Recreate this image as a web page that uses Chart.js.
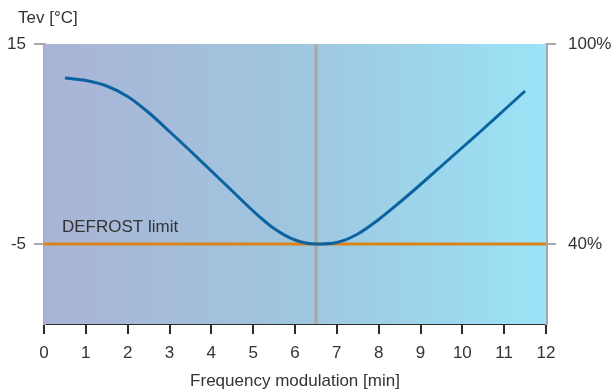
<!DOCTYPE html>
<html>
<head>
<meta charset="utf-8">
<script src="https://cdn.jsdelivr.net/npm/chart.js@4"></script>
<style>
	body { margin: 0; background: #ffffff; }
	#wrap { width: 616px; height: 392px; }
</style>
</head>
<body>
<div id="wrap"><canvas id="myChart"></canvas></div>
<script>
// Data
const minutes = [0.5, 1, 1.5, 2, 2.5, 3, 3.5, 4, 4.5, 5, 5.5, 6, 6.5, 7, 7.5, 8, 8.5, 9, 9.5, 10, 10.5, 11, 11.5];
const tev = [11.6, 11.35, 10.8, 9.75, 8.15, 6.25, 4.3, 2.3, 0.3, -1.7, -3.45, -4.6, -5.0, -4.85, -4.0, -2.55, -0.85, 0.95, 2.8, 4.65, 6.5, 8.4, 10.3];
const defrostLimit = -5;
const switchMinute = 6.5;
const leftTicks = [15, -5];
const rightTicks = [100, 40];
const xTicks = [0, 1, 2, 3, 4, 5, 6, 7, 8, 9, 10, 11, 12];

const textColor = "#333333";
const font = { family: "'Liberation Sans', Arial, sans-serif", size: 17 };

// Background gradient + texts
const decor = {
	id: "decor",
	beforeDatasetsDraw(chart) {
		const { ctx, chartArea } = chart;
		const g = ctx.createLinearGradient(chartArea.left, 0, chartArea.right, 0);
		g.addColorStop(0, "#aab3d6");
		g.addColorStop(0.5, "#9fc6df");
		g.addColorStop(1, "#9be3f6");
		ctx.save();
		ctx.fillStyle = g;
		ctx.fillRect(chartArea.left, chartArea.top, chartArea.right - chartArea.left, chartArea.bottom - chartArea.top);
		ctx.restore();
	},
	afterDraw(chart) {
		const { ctx, scales } = chart;
		ctx.save();
		ctx.fillStyle = textColor;
		ctx.font = "17px 'Liberation Sans', Arial, sans-serif";
		ctx.textBaseline = "middle";
		ctx.textAlign = "left";
		ctx.fillText("Tev [°C]", 18, 18);
		ctx.fillText("DEFROST limit", scales.x.getPixelForValue(0.43), scales.y.getPixelForValue(defrostLimit) - 17);
		ctx.restore();
	},
};

const ctx = document.getElementById("myChart").getContext("2d");
const myChart = new Chart(ctx, {
	type: "line",
	data: {
		datasets: [
			{
				data: minutes.map((m, i) => ({ x: m, y: tev[i] })),
				borderColor: "#0b63a1",
				borderWidth: 3,
				pointRadius: 0,
				cubicInterpolationMode: "monotone",
				order: 0,
			},
			{
				data: [{ x: 0, y: defrostLimit }, { x: 12, y: defrostLimit }],
				borderColor: "#d9841a",
				borderWidth: 3,
				pointRadius: 0,
				order: 1,
			},
			{
				data: [{ x: switchMinute, y: -13 }, { x: switchMinute, y: 15 }],
				borderColor: "#a8a8a8",
				borderWidth: 3,
				pointRadius: 0,
				order: 2,
			},
		],
	},
	options: {
		responsive: true,
		maintainAspectRatio: false,
		animation: false,
		layout: { padding: { top: 44, left: 0, right: 0, bottom: 0 } },
		plugins: {
			legend: { display: false },
			tooltip: { enabled: false },
		},
		scales: {
			x: {
				type: "linear",
				min: 0,
				max: 12,
				afterBuildTicks: (scale) => {
					scale.ticks = xTicks.map((v) => ({ value: v }));
				},
				afterFit: (scale) => {
					scale.height = 68;
				},
				border: { color: "#2b2b2b", width: 2 },
				grid: { drawOnChartArea: false, color: "#2b2b2b", lineWidth: 2, tickLength: 10 },
				ticks: { color: textColor, font: font, padding: 9 },
				title: {
					display: true,
					text: "Frequency modulation [min]",
					color: textColor,
					font: font,
					padding: { top: 4, bottom: 0 },
				},
			},
			y: {
				position: "left",
				min: -13,
				max: 15,
				afterBuildTicks: (scale) => {
					scale.ticks = leftTicks.map((v) => ({ value: v }));
				},
				afterFit: (scale) => {
					scale.width = 44;
				},
				border: { color: "#a8a8a8", width: 3 },
				grid: { drawOnChartArea: false, color: "#a8a8a8", lineWidth: 2, tickLength: 10 },
				ticks: { color: textColor, font: font, padding: 8 },
			},
			y2: {
				position: "right",
				min: 16,
				max: 100,
				afterBuildTicks: (scale) => {
					scale.ticks = rightTicks.map((v) => ({ value: v }));
				},
				afterFit: (scale) => {
					scale.width = 70;
				},
				border: { color: "#a8a8a8", width: 3 },
				grid: { drawOnChartArea: false, color: "#a8a8a8", lineWidth: 2, tickLength: 10 },
				ticks: { color: textColor, font: font, padding: 12, callback: (v) => v + "%" },
			},
		},
	},
	plugins: [decor],
});
</script>
</body>
</html>
